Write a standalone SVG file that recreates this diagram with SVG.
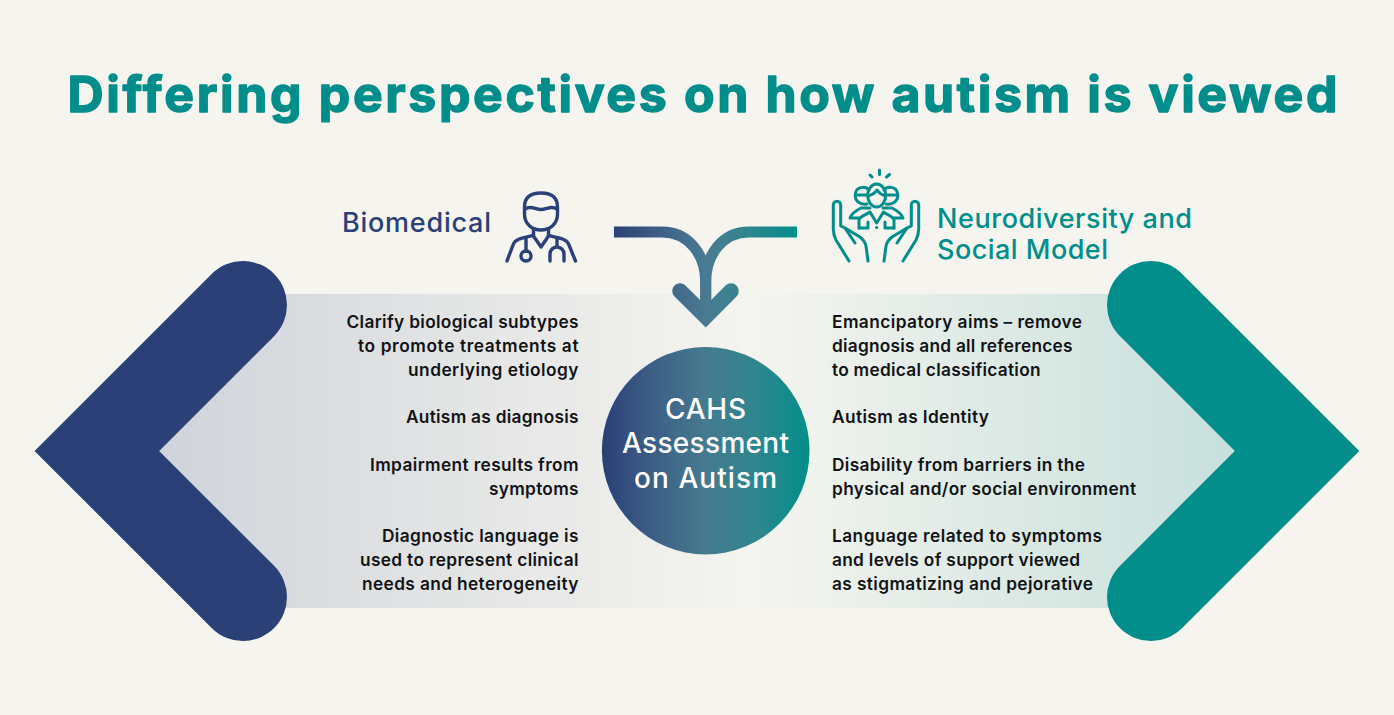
<svg xmlns="http://www.w3.org/2000/svg" width="1394" height="715" viewBox="0 0 1394 715">
<style>
.t{font-family:"Inter","Liberation Sans",sans-serif;font-size:17.3px;font-weight:560;fill:#111316}
.e{text-anchor:end}
.h{font-family:"Inter","Liberation Sans",sans-serif;font-size:27px;font-weight:500}
.c{font-family:"Inter","Liberation Sans",sans-serif;font-size:28px;font-weight:500;fill:#fff;text-anchor:middle}
.ttl{font-family:"Inter","Liberation Sans",sans-serif;font-size:50px;font-weight:700;fill:#018e8a;stroke:#018e8a;stroke-width:1.4;stroke-linejoin:round}
.ic{fill:none;stroke-linecap:round;stroke-linejoin:round}
.nv{stroke:#2a4076;stroke-width:3.4}
.tl{stroke:#018e8a;stroke-width:3}
</style>
<defs>
<linearGradient id="bar" gradientUnits="userSpaceOnUse" x1="158" y1="0" x2="1235" y2="0">
<stop offset="0" stop-color="#d0d4da"/><stop offset="0.55" stop-color="#f5f4ef"/><stop offset="1" stop-color="#c7e0dc"/>
</linearGradient>
<linearGradient id="circ" gradientUnits="userSpaceOnUse" x1="602" y1="0" x2="809" y2="0">
<stop offset="0" stop-color="#2a4076"/><stop offset="0.25" stop-color="#3e5f86"/><stop offset="0.5" stop-color="#457a8f"/><stop offset="0.75" stop-color="#2f868f"/><stop offset="1" stop-color="#018e8a"/>
</linearGradient>
<linearGradient id="conn" gradientUnits="userSpaceOnUse" x1="614" y1="0" x2="797" y2="0">
<stop offset="0" stop-color="#2a4076"/><stop offset="0.25" stop-color="#3e5f86"/><stop offset="0.5" stop-color="#4a7b93"/><stop offset="0.75" stop-color="#2f868f"/><stop offset="1" stop-color="#018e8a"/>
</linearGradient>
</defs>
<rect width="1394" height="715" fill="#f5f4ef"/>
<text class="ttl" x="67.500" y="111.500" textLength="1270" lengthAdjust="spacing">Differing perspectives on how autism is viewed</text>
<polygon id="band" points="243,294 1151,294 1235,451 1151,608 243,608 158,451" fill="url(#bar)"/>
<g id="chevron-left"><polyline points="243,305 96.800,451 243,597" fill="none" stroke="#2a4076" stroke-width="88" stroke-linecap="round" stroke-linejoin="miter" stroke-miterlimit="4"/></g>
<g id="chevron-right"><polyline points="1151,305 1297,451 1151,597" fill="none" stroke="#018e8a" stroke-width="88" stroke-linecap="round" stroke-linejoin="miter" stroke-miterlimit="4"/></g>
<g id="connectors" fill="none" stroke="url(#conn)">
<path d="M614,232 H662 C688,232 705.700,254 705.700,282 V315" stroke-width="11"/>
<path d="M797,232 H749 C723,232 705.700,254 705.700,282 V315" stroke-width="11"/>
<polyline points="680,291 705.700,316.500 731,291" stroke-width="15.500" stroke-linecap="round" stroke-linejoin="miter"/>
</g>
<g id="node-biomedical">
<text class="h" x="342" y="231.500" textLength="149" fill="#2a4076">Biomedical</text>
<g class="ic nv">
<path d="M524.500,207 C524.500,197 531,193 541,193 C551,193 557.500,197 557.500,207 V214 C557.500,224 550,230 541,230 C532,230 524.500,224 524.500,214 Z"/>
<path d="M525,209 C531,205 535,209.500 541,209.500 C547,209.500 551,205 557,209"/>
<path d="M533.500,229 V236 L541,247 L548.500,236 V229"/>
<path d="M507,261 L513,245 C515,239 522,238 533,235.500"/>
<path d="M575.500,261 L569,245 C567,239 560,238 548.500,235.500"/>
<path d="M526,238 V251"/><circle cx="526" cy="256" r="5"/>
<path d="M557,238 V246"/>
<path d="M550,261 V254 A7,7 0 0 1 564,254 V261"/>
</g>
</g>
<g id="node-neurodiversity">
<text class="h" x="937" y="227.500" textLength="255" fill="#018e8a">Neurodiversity and</text>
<text class="h" x="937" y="258.500" textLength="171" fill="#018e8a">Social Model</text>
<g class="ic tl">
<path d="M870,175 L872,177 M879.500,170 V174.500 M886.500,177 L889.500,174.500"/>
<ellipse cx="876.700" cy="195.500" rx="9" ry="11.500"/>
<path d="M868,196 C872,195 875,193 877,190 C879,193 882,195 885.500,196"/>
<path d="M869,190 C866,186 857,186 855.500,193 C854,201 860,205 867,204"/>
<path d="M884,190 C887,186 896,186 897.500,193 C899,201 893,205 886,204"/>
<path d="M855.500,195 H867 M886,195 H897.500"/>
<path d="M870,208 L861,208 C857,210 852,213 850,218 H859"/>
<path d="M883,208 L892,208 C896,210 901,213 903,218 H894"/>
<path d="M859,228 V220 C860,216 866,215 870,212 L876.700,223 L883.500,212 C887,215 893,216 894,220 V228"/>
<path d="M859,228 H868 V222 M885,222 V228 H894 M876.600,227.500 H876.800"/>
<path d="M849,261 L836,240 Q833.300,235 833.300,229 V205 A3.700,3.700 0 0 1 840.700,205 V226 L845,228 L860,237 Q865,241 866,246 L868,261"/>
<path d="M845,228 L855,243"/>
<path d="M903,261 L916,240 Q918.700,235 918.700,229 V205 A3.700,3.700 0 0 0 911.300,205 V226 L907,228 L892,237 Q887,241 886,246 L884,261"/>
<path d="M907,228 L897,243"/>
</g>
</g>
<g id="node-left-text">
<text class="t e" x="578.500" y="327.500" textLength="232">Clarify biological subtypes</text>
<text class="t e" x="578.500" y="351.500" textLength="220.500">to promote treatments at</text>
<text class="t e" x="578.500" y="375.500" textLength="170.500">underlying etiology</text>
<text class="t e" x="578.500" y="422.500" textLength="172.500">Autism as diagnosis</text>
<text class="t e" x="578.500" y="470.500" textLength="208.500">Impairment results from</text>
<text class="t e" x="578.500" y="494.500" textLength="89.500">symptoms</text>
<text class="t e" x="578.500" y="541.500" textLength="196.500">Diagnostic language is</text>
<text class="t e" x="578.500" y="565.500" textLength="218.500">used to represent clinical</text>
<text class="t e" x="578.500" y="589.500" textLength="216.500">needs and heterogeneity</text>
</g>
<g id="node-right-text">
<text class="t" x="832" y="327.500" textLength="250">Emancipatory aims – remove</text>
<text class="t" x="832" y="351.500" textLength="240.500">diagnosis and all references</text>
<text class="t" x="832" y="375.500" textLength="208.500">to medical classification</text>
<text class="t" x="832" y="422.500" textLength="157">Autism as Identity</text>
<text class="t" x="832" y="470.500" textLength="253">Disability from barriers in the</text>
<text class="t" x="832" y="494.500" textLength="304">physical and/or social environment</text>
<text class="t" x="832" y="541.500" textLength="270">Language related to symptoms</text>
<text class="t" x="832" y="565.500" textLength="248">and levels of support viewed</text>
<text class="t" x="832" y="589.500" textLength="261">as stigmatizing and pejorative</text>
</g>
<g id="node-center">
<circle cx="705.700" cy="450.700" r="103.800" fill="url(#circ)"/>
<text class="c" x="705.500" y="418.500" textLength="81">CAHS</text>
<text class="c" x="705.500" y="453" textLength="167">Assessment</text>
<text class="c" x="705.500" y="487.500" textLength="143">on Autism</text>
</g>
</svg>
